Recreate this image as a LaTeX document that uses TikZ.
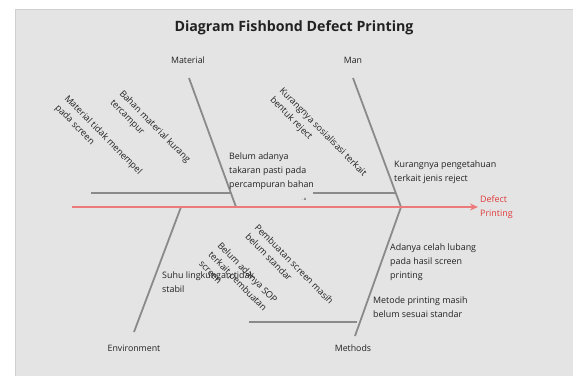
\documentclass[tikz,border=0pt]{standalone}
\usepackage{fontspec}
\setmainfont{Open Sans}
\usetikzlibrary{arrows.meta}
\definecolor{panel}{HTML}{E4E4E4}
\definecolor{panelrule}{HTML}{CFCFCF}
\definecolor{bone}{HTML}{8A8A8A}
\definecolor{spine}{HTML}{EC7A7A}
\definecolor{effect}{HTML}{E03A3A}
\definecolor{ink}{HTML}{222222}
\tikzset{
  bone/.style={draw=bone, line width=1.8pt},
  spineline/.style={draw=spine, line width=1.6pt, -{Stealth[length=8pt,width=7pt]}},
  cat/.style={text=ink, font=\fontsize{8.8}{10}\selectfont, inner sep=0pt},
  cause/.style={text=ink, font=\fontsize{8.9}{13.8}\selectfont, align=left, inner sep=0pt},
  tilted/.style={cause, font=\fontsize{9.1}{13}\selectfont, anchor=north west, rotate=-45.5},
}
\begin{document}
\begin{tikzpicture}[x=1pt, y=-1pt]
\useasboundingbox (0,0) rectangle (573,376);
% panel with a faint rule on its top and left edges
\fill[panel] (15,9) rectangle (573,376);
\draw[panelrule, line width=0.8pt] (573,9.4) -- (15.4,9.4) -- (15.4,376);

% title
\node[text=ink, font=\fontsize{14.2}{16}\selectfont\bfseries] (title) at (294,28) {Diagram Fishbond Defect Printing};

% key points of the skeleton
\coordinate (tail) at (72,207);
\coordinate (head) at (478,207);
\coordinate (joint) at (401,207);
\coordinate (matTop) at (189,78);
\coordinate (matFoot) at (236,207);
\coordinate (manTop) at (353,78);
\coordinate (envFoot) at (181,207);
\coordinate (envEnd) at (134,332);
\coordinate (metEnd) at (355,336);
\coordinate (matRibA) at (91,193);
\coordinate (matRibB) at (231,193);
\coordinate (manRibA) at (313,193);
\coordinate (manRibB) at (396,193);
\coordinate (metRibA) at (249,322);
\coordinate (metRibB) at (357,322);

% bones
\draw[bone] (matTop) -- (matFoot);
\draw[bone] (manTop) -- (joint) -- (metEnd);
\draw[bone] (envFoot) -- (envEnd);
\draw[bone] (matRibA) -- (matRibB);
\draw[bone] (manRibA) -- (manRibB);
\draw[bone] (metRibA) -- (metRibB);

% spine and effect
\draw[spineline] (tail) -- (head);
\node[text=effect, font=\fontsize{8.9}{13.8}\selectfont, align=left, anchor=west, inner sep=0pt] (effectlbl) at (480,207) {Defect\\Printing};

% category labels
\node[cat] (material) at (188,60) {Material};
\node[cat] (man) at (353,60) {Man};
\node[cat] (environment) at (134,348) {Environment};
\node[cat] (methods) at (353,348) {Methods};

% level causes
\node[cause, anchor=north west] (takaran) at (229,153) {Belum adanya\\takaran pasti pada\\percampuran bahan};
\node[cause, anchor=north west] (pengetahuan) at (394,161) {Kurangnya pengetahuan\\terkait jenis reject};
\node[cause, anchor=north west] (celah) at (390,244) {Adanya celah lubang\\pada hasil screen\\printing};
\node[cause, anchor=north west] (metode) at (373,297) {Metode printing masih\\belum sesuai standar};
\node[cause, anchor=north west] (suhu) at (162,272) {Suhu lingkungan tidak\\stabil};
\node[text=ink, font=\fontsize{4}{4}\selectfont, inner sep=0pt] (stray) at (304,199) {.\,a};

% tilted causes
\node[tilted] (bahan) at (124,89) {Bahan material kurang\\tercampur};
\node[tilted] (menempel) at (69,94) {Material tidak menempel\\pada screen};
\node[tilted] (sosialisasi) at (284,86) {Kurangnya sosialisasi terkait\\bentuk reject};
\node[tilted] (pembuatan) at (259,223) {Pembuatan screen masih\\belum standar};
\node[tilted] (sop) at (222,241) {Belum adanya SOP\\terkait pembuatan\\screen};
\end{tikzpicture}
\end{document}
